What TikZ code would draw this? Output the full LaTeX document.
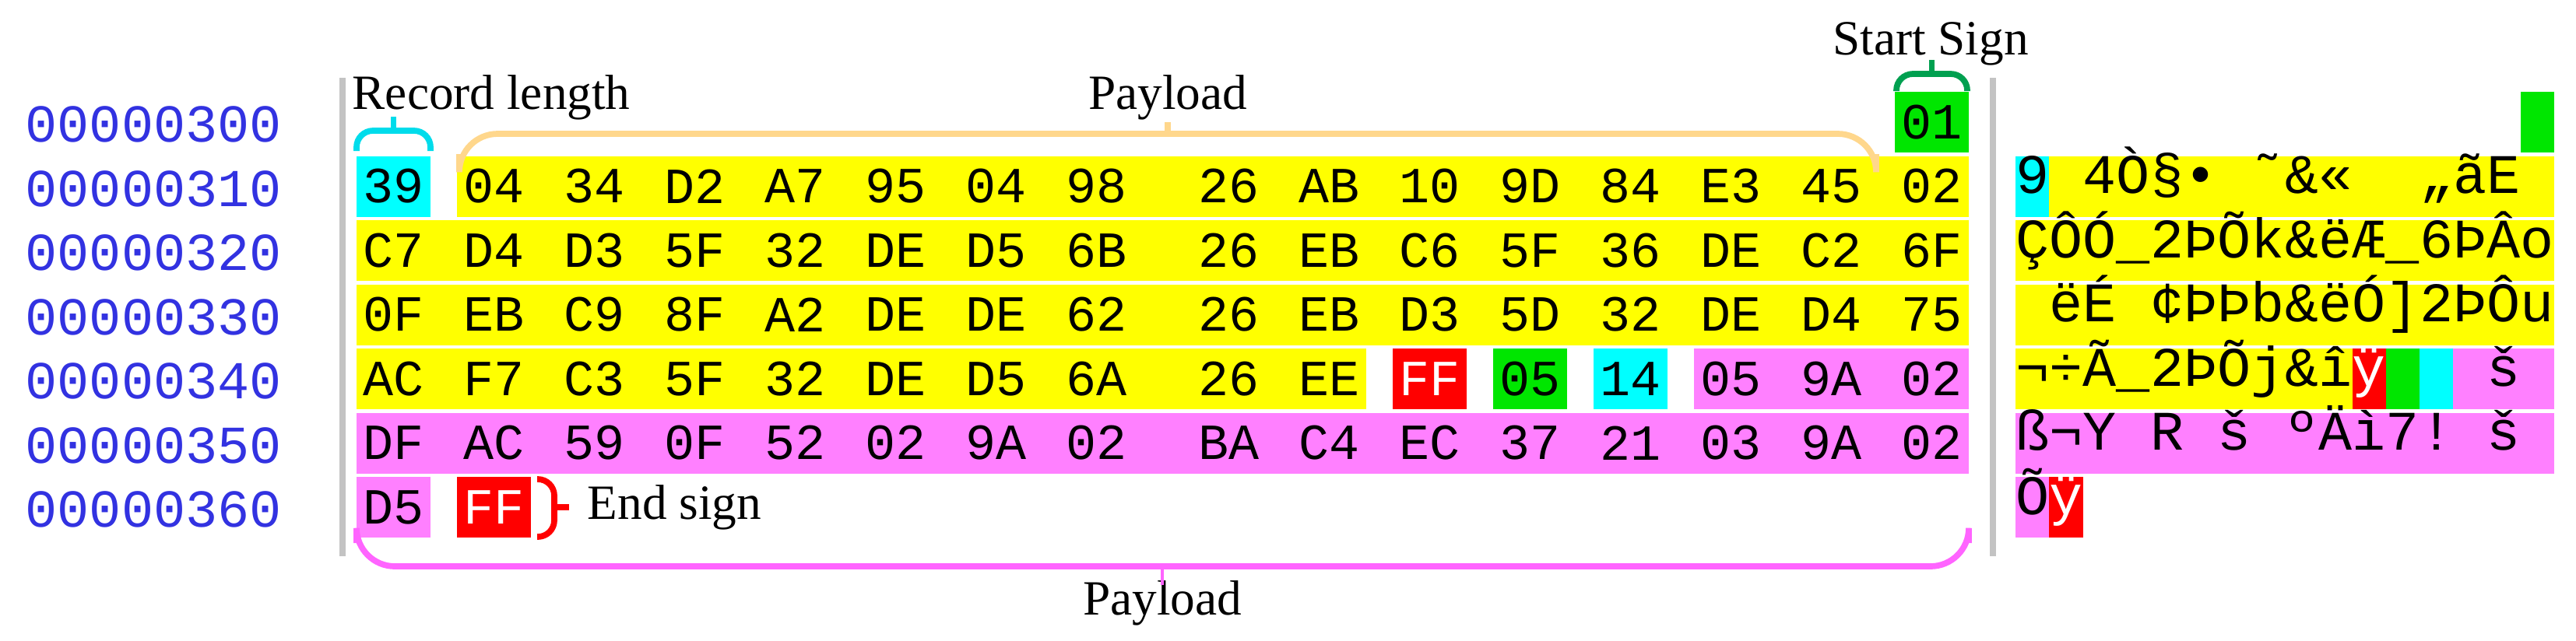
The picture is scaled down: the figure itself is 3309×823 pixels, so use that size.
\documentclass[tikz,border=0pt]{standalone}
\usepackage{fontspec}
\setmainfont{Liberation Serif}
\newfontfamily\hexfont{Liberation Mono}
\usetikzlibrary{positioning}

\definecolor{hexyellow}{RGB}{255,255,0}
\definecolor{hexcyan}{RGB}{0,255,255}
\definecolor{hexgreen}{RGB}{0,230,0}
\definecolor{hexred}{RGB}{255,0,0}
\definecolor{hexpink}{RGB}{255,128,255}
\definecolor{addrblue}{RGB}{50,50,225}
\definecolor{sepgray}{RGB}{195,195,195}
\definecolor{braceorange}{RGB}{255,215,140}
\definecolor{bracecyan}{RGB}{0,220,235}
\definecolor{bracegreen}{RGB}{0,160,80}
\definecolor{bracepink}{RGB}{255,100,255}

\newcommand{\uscore}{{\char"5F}}

\tikzset{
  addr/.style={font=\hexfont\fontsize{19.5}{20}\selectfont, text=addrblue, anchor=west, inner sep=0},
  byte/.style={font=\hexfont\fontsize{18.5}{19}\selectfont, inner sep=0, minimum width=0.95cm, minimum height=0.78cm},
  chr/.style={font=\hexfont\fontsize{20.4}{21}\selectfont, inner sep=0, text height=0.27cm, text depth=0.09cm},
  lbl/.style={font=\fontsize{18}{20}\selectfont, inner sep=0},
  brace/.style={line width=2.2pt, rounded corners=6pt},
  sep/.style={draw=sepgray, line width=2.2pt},
}

\begin{document}
\begin{tikzpicture}[x=0.01cm, y=-0.01cm]
  \useasboundingbox (0,0) rectangle (3309,823);

  % offsets
  \foreach \a [count=\r from 0] in {300,310,320,330,340,350,360}
    \node[addr] (addr\r) at (32,{160+82.5*\r}) {00000\a};

  \draw[sep] (440,100) -- (440,715);
  \draw[sep] (2560,100) -- (2560,715);

  % hex backgrounds
  \fill[hexgreen]  (2434,118) rectangle (2529,196);
  \fill[hexcyan]   (458,200.5) rectangle (553,278.5);
  \fill[hexyellow] (587,200.5) rectangle (2529,278.5);
  \fill[hexyellow] (458,283) rectangle (2529,361);
  \fill[hexyellow] (458,365.5) rectangle (2529,443.5);
  \fill[hexyellow] (458,448) rectangle (1755,526);
  \fill[hexred]    (1789,448) rectangle (1884,526);
  \fill[hexgreen]  (1918,448) rectangle (2013,526);
  \fill[hexcyan]   (2047,448) rectangle (2142,526);
  \fill[hexpink]   (2176,448) rectangle (2529,526);
  \fill[hexpink]   (458,530.5) rectangle (2529,608.5);
  \fill[hexpink]   (458,613) rectangle (553,691);
  \fill[hexred]    (587,613) rectangle (682,691);

  % hex bytes
  \node[byte] (b0-15) at (2481.5,157) {01};
  \def\ffbyte{FF}
  \foreach \r/\bytes in {
      1/{39,04,34,D2,A7,95,04,98,26,AB,10,9D,84,E3,45,02},
      2/{C7,D4,D3,5F,32,DE,D5,6B,26,EB,C6,5F,36,DE,C2,6F},
      3/{0F,EB,C9,8F,A2,DE,DE,62,26,EB,D3,5D,32,DE,D4,75},
      4/{AC,F7,C3,5F,32,DE,D5,6A,26,EE,FF,05,14,05,9A,02},
      5/{DF,AC,59,0F,52,02,9A,02,BA,C4,EC,37,21,03,9A,02},
      6/{D5,FF}}
    \foreach \b [count=\c from 0] in \bytes {
      \pgfmathsetmacro\bx{505.5+129*\c+(\c>7)*41}
      \edef\thisbyte{\b}
      \ifx\thisbyte\ffbyte
        \node[byte, text=white] (b\r-\c) at (\bx,{157+82.5*\r}) {\b};
      \else
        \node[byte] (b\r-\c) at (\bx,{157+82.5*\r}) {\b};
      \fi
    }

  % text column backgrounds
  \fill[hexgreen]  (3238,118) rectangle (3281,196);
  \fill[hexcyan]   (2589,200.5) rectangle (2632.25,278.5);
  \fill[hexyellow] (2632.25,200.5) rectangle (3281,278.5);
  \fill[hexyellow] (2589,283) rectangle (3281,361);
  \fill[hexyellow] (2589,365.5) rectangle (3281,443.5);
  \fill[hexyellow] (2589,448) rectangle (3021.5,526);
  \fill[hexred]    (3021.5,448) rectangle (3064.75,526);
  \fill[hexgreen]  (3064.75,448) rectangle (3108,526);
  \fill[hexcyan]   (3108,448) rectangle (3151.25,526);
  \fill[hexpink]   (3151.25,448) rectangle (3281,526);
  \fill[hexpink]   (2589,530.5) rectangle (3281,608.5);
  \fill[hexpink]   (2589,613) rectangle (2632.25,691);
  \fill[hexred]    (2632.25,613) rectangle (2675.5,691);

  % text column
  \foreach \r/\chars in {
      1/{9,{},4,Ò,§,•,{},˜,\&,«,{},{},„,ã,E,{}},
      2/{Ç,Ô,Ó,\uscore,2,Þ,Õ,k,\&,ë,Æ,\uscore,6,Þ,Â,o},
      3/{{},ë,É,{},¢,Þ,Þ,b,\&,ë,Ó,],2,Þ,Ô,u},
      4/{¬,÷,Ã,\uscore,2,Þ,Õ,j,\&,î,{},{},{},{},š,{}},
      5/{ß,¬,Y,{},R,{},š,{},º,Ä,ì,7,!,{},š,{}},
      6/{Õ}}
    \foreach \ch [count=\c from 0] in \chars
      \node[chr] (t\r-\c) at ({2610.6+43.25*\c},{157+82.5*\r}) {\ch};
  \node[chr, text=white] (t4-10) at ({2610.6+43.25*10},487) {ÿ};
  \node[chr, text=white] (t6-1) at ({2610.6+43.25},652) {ÿ};

  % annotations
  \node[lbl, anchor=base west] (reclen) at (452,140) {Record length};
  \draw[brace, bracecyan] (458,194) -- (458,168) -- (553,168) -- (553,194);
  \draw[bracecyan, line width=2.2pt] (505.5,168) -- (505.5,150);

  \node[lbl, anchor=base] (payloadtop) at (1500,140) {Payload};
  \draw[brace, braceorange, rounded corners=14pt] (590,198) -- (590,172) -- (2410,172) -- (2410,198);
  \draw[braceorange, line width=2.2pt] (1500,172) -- (1500,157);

  \node[lbl, anchor=base] (startsign) at (2480,70) {Start Sign};
  \draw[brace, bracegreen] (2436,117) -- (2436,95) -- (2527,95) -- (2527,117);
  \draw[bracegreen, line width=2.2pt] (2481.5,95) -- (2481.5,77);

  \node[lbl, anchor=west] (endsign) at (754,652) {End sign};
  \draw[brace, hexred] (690,616) -- (712,616) -- (712,690) -- (690,690);
  \draw[hexred, line width=2.2pt] (712,652) -- (731,652);

  \node[lbl, anchor=base] (payloadbot) at (1493,790) {Payload};
  \draw[brace, bracepink, rounded corners=14pt] (458,698) -- (458,728) -- (2529,728) -- (2529,698);
  \draw[bracepink, line width=1.2pt] (1493,728) -- (1493,752);
\end{tikzpicture}
\end{document}
